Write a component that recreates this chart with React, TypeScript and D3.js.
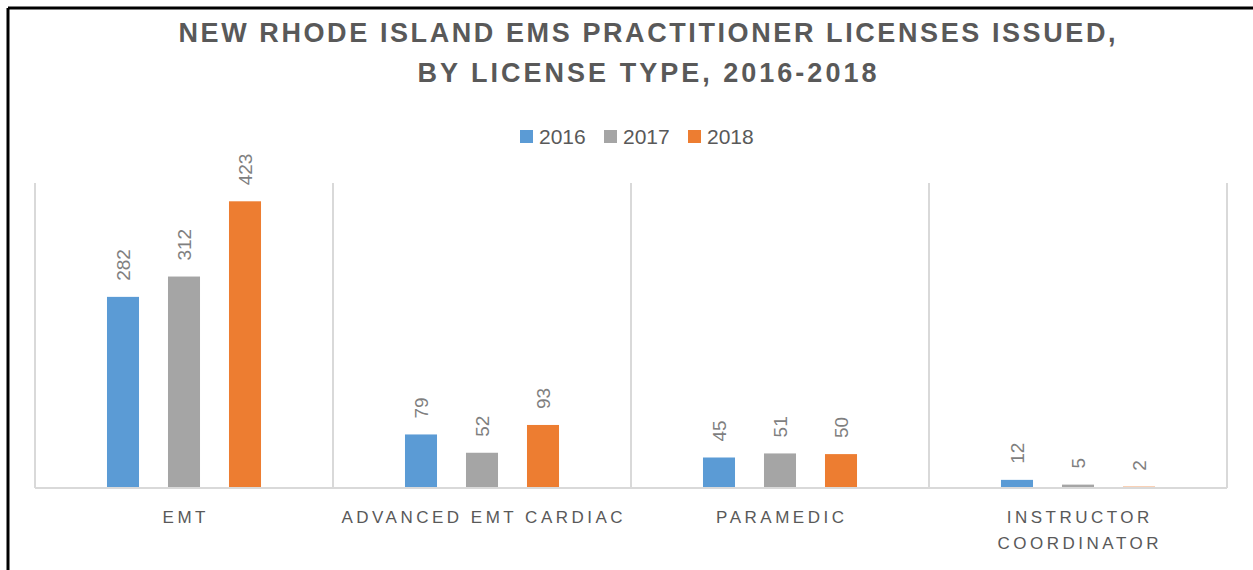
import React from "react";
import * as d3 from "d3";

const categories = ["EMT", "ADVANCED EMT CARDIAC", "PARAMEDIC", "INSTRUCTOR COORDINATOR"];
const categoryLines = [["EMT"], ["ADVANCED EMT CARDIAC"], ["PARAMEDIC"], ["INSTRUCTOR", "COORDINATOR"]];
const years = ["2016", "2017", "2018"];
const values2016 = [282, 79, 45, 12];
const values2017 = [312, 52, 51, 5];
const values2018 = [423, 93, 50, 2];
const seriesValues = [values2016, values2017, values2018];
const colors = ["#5b9bd5", "#a5a5a5", "#ed7d31"];

const W = 1253;
const H = 570;

const App = () => {
    const left = 35;
    const right = 1227;
    const top = 183;
    const bottom = 488;

    const x0 = d3.scaleBand().domain(categories).range([left, right]).padding(0);
    const x1 = d3.scaleBand()
        .domain(years)
        .range([0, x0.bandwidth()])
        .paddingInner(0.475)
        .paddingOuter(1.18);
    const y = d3.scaleLinear().domain([0, 450]).range([bottom, top]);

    const font = "'Liberation Sans', Arial, sans-serif";
    const titleFont = "'Liberation Sans Narrow', 'Liberation Sans', sans-serif";
    const separators = categories.map(c => x0(c)).concat([right]);

    return (
        <svg width={W} height={H} style={{position: "absolute", left: 0, top: 0}} fontFamily={font}>
            <rect x={0} y={0} width={W} height={H} fill="#fff"/>
            {/* frame */}
            <line x1={8} x2={W} y1={8} y2={8} stroke="#000" strokeWidth={3}/>
            <line x1={8} x2={8} y1={8} y2={H} stroke="#000" strokeWidth={3}/>

            {/* title */}
            <text x={647} y={42} textAnchor="middle" fontSize={27} fontWeight="bold" fill="#595959"
                  fontFamily={titleFont} textLength={937} lengthAdjust="spacing">NEW RHODE ISLAND EMS PRACTITIONER LICENSES ISSUED,</text>
            <text x={647} y={82} textAnchor="middle" fontSize={27} fontWeight="bold" fill="#595959"
                  fontFamily={titleFont} textLength={459} lengthAdjust="spacing">BY LICENSE TYPE, 2016-2018</text>

            {/* legend */}
            {years.map((yr, i) => {
                const lx = [520, 604, 688][i];
                return (
                    <g key={yr}>
                        <rect x={lx} y={130} width={13} height={13} fill={colors[i]}/>
                        <text x={lx + 19} y={144} fontSize={21} fill="#595959">{yr}</text>
                    </g>
                );
            })}

            {/* separators + axis */}
            {separators.map((sx, i) => (
                <line key={i} x1={sx} x2={sx} y1={top} y2={bottom} stroke="#d9d9d9" strokeWidth={2}/>
            ))}
            <line x1={left} x2={right} y1={bottom} y2={bottom} stroke="#d9d9d9" strokeWidth={2}/>

            {/* bars */}
            {categories.map((cat, ci) => (
                <g key={cat} transform={`translate(${x0(cat)},0)`}>
                    {years.map((yr, si) => {
                        const v = seriesValues[si][ci];
                        const bx = x1(yr);
                        const by = y(v);
                        const cx = bx + x1.bandwidth() / 2;
                        return (
                            <g key={yr}>
                                <rect x={bx} y={by} width={x1.bandwidth()} height={bottom - 1 - by} fill={colors[si]}/>
                                <text transform={`translate(${cx},${by - 16}) rotate(-90)`} dy="0.35em"
                                      fontSize={19} fill="#7f7f7f">{v}</text>
                            </g>
                        );
                    })}
                </g>
            ))}

            {/* category labels */}
            {categories.map((cat, ci) => (
                <g key={cat}>
                    {categoryLines[ci].map((ln, li) => (
                        <text key={li} x={x0(cat) + x0.bandwidth() / 2 + 1.75} y={523 + li * 26}
                              textAnchor="middle" fontSize={17} letterSpacing={3.5} fill="#595959">{ln}</text>
                    ))}
                </g>
            ))}
        </svg>
    );
};

export default App;
